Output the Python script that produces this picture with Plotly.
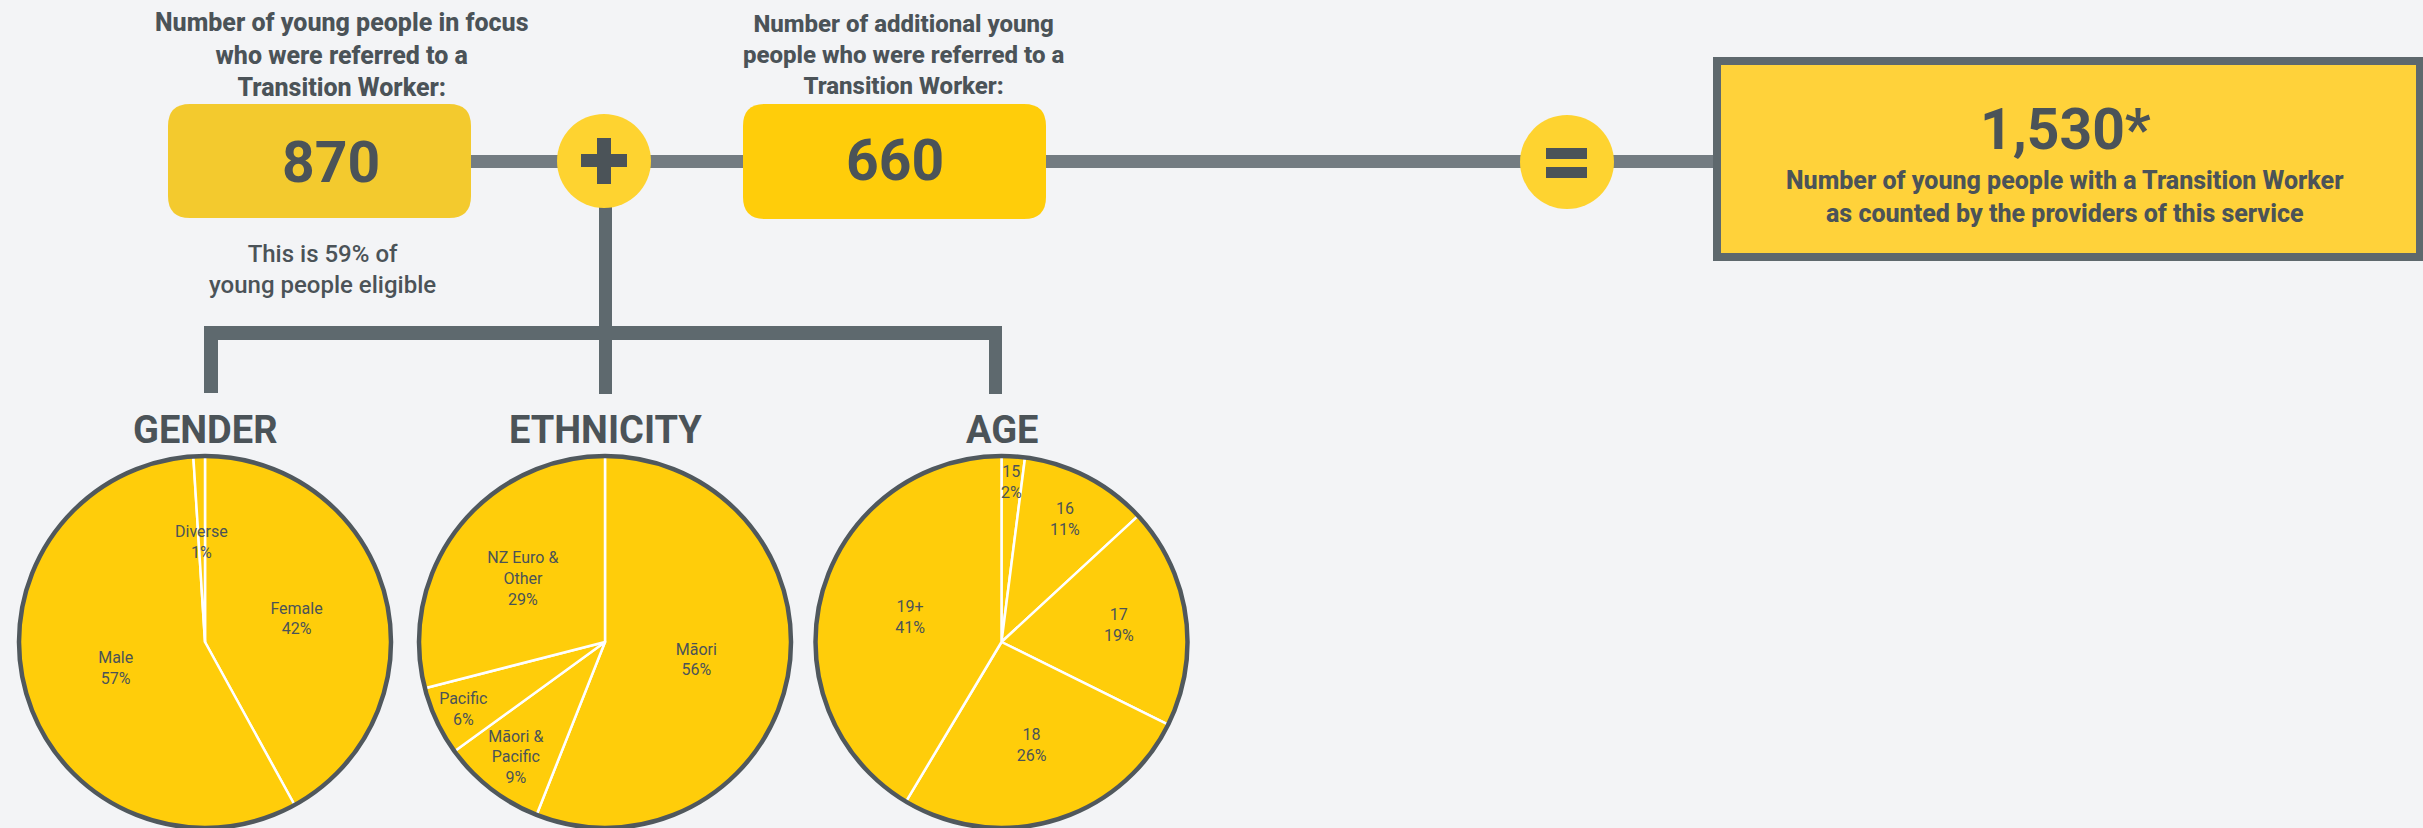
import math
import plotly.graph_objects as go

W, H = 2423, 828
BG = "#F3F4F6"
DARK = "#4B5358"
LINE = "#5E696E"
LINE_LIGHT = "#737C82"
YEL = "#FFCD0A"
YEL_BOX1 = "#F3CA2E"
YEL_CIRCLE = "#FED330"
YEL_TOTAL = "#FFD23A"
FONT = "Roboto"

# ---- data ----
focus_count = 870
additional_count = 660
eligible_share = 59

gender_labels = ["Female", "Male", "Diverse"]
gender_values = [42, 57, 1]

eth_labels = ["Māori", "Māori &<br>Pacific", "Pacific", "NZ Euro &<br>Other"]
eth_values = [56, 9, 6, 29]

age_labels = ["15", "16", "17", "18", "19+"]
age_values = [2, 11, 19, 26, 41]

pie_titles = ["GENDER", "ETHNICITY", "AGE"]

total_text = f"{focus_count + additional_count:,}*"

# styling: radial position (fraction of radius) for labels of tiny slices
SMALL = 2
small_label_radius = {1: 0.54, 2: 0.86}

fig = go.Figure()
# invisible cartesian trace so pixel-based axes exist
fig.add_trace(go.Scatter(x=[], y=[], showlegend=False, hoverinfo="skip"))

pie_centers = [205, 605, 1001.5]
R = 186
CY = H - R

annotations = []
def text(x, y, s, size, weight=700, color=DARK, yanchor="middle"):
    annotations.append(dict(x=x, y=y, xref="x", yref="y", text=s, showarrow=False,
                            xanchor="center", yanchor=yanchor, align="center",
                            font=dict(family=FONT, size=size, color=color, weight=weight)))

for (labels, values), cx in zip([(gender_labels, gender_values),
                                  (eth_labels, eth_values),
                                  (age_labels, age_values)], pie_centers):
    positions = ["none" if v <= SMALL else "inside" for v in values]
    fig.add_trace(go.Pie(
        labels=labels, values=values, sort=False, direction="clockwise", rotation=0,
        domain=dict(x=[(cx - R) / W, (cx + R) / W], y=[0, (2 * R) / H]),
        marker=dict(colors=[YEL] * len(values), line=dict(color="white", width=2.5)),
        texttemplate="%{label}<br>%{value}%", textposition=positions,
        insidetextorientation="horizontal",
        textfont=dict(family=FONT, size=16, color=DARK),
        showlegend=False, hoverinfo="label+value",
    ))
    # labels of tiny slices: placed along the slice bisector
    total = sum(values)
    cum = 0
    for lab, v in zip(labels, values):
        if v <= SMALL:
            mid = (cum + v / 2) / total * 2 * math.pi
            rf = small_label_radius.get(v, 0.6)
            text(cx + rf * R * math.sin(mid), CY - rf * R * math.cos(mid),
                 f"{lab}<br>{v}%", 16, weight=400)
        cum += v

shapes = []
def rect(x0, y0, x1, y1, color, **kw):
    shapes.append(dict(type="rect", xref="x", yref="y", x0=x0, y0=y0, x1=x1, y1=y1,
                       fillcolor=color, line=dict(width=0), layer="below", **kw))

def rounded(x0, y0, x1, y1, r, color):
    p = (f"M {x0+r} {y0} L {x1-r} {y0} Q {x1} {y0} {x1} {y0+r} L {x1} {y1-r} "
         f"Q {x1} {y1} {x1-r} {y1} L {x0+r} {y1} Q {x0} {y1} {x0} {y1-r} "
         f"L {x0} {y0+r} Q {x0} {y0} {x0+r} {y0} Z")
    shapes.append(dict(type="path", xref="x", yref="y", path=p, fillcolor=color,
                       line=dict(width=0), layer="below"))

def circle(cx, cy, r, fill, line_color=None, lw=0, layer="below"):
    shapes.append(dict(type="circle", xref="x", yref="y", x0=cx - r, x1=cx + r,
                       y0=cy - r, y1=cy + r, fillcolor=fill,
                       line=dict(color=line_color or fill, width=lw), layer=layer))

# connectors
rect(471, 155, 1713, 168, LINE_LIGHT)
rect(599, 190, 612, 394, LINE)
rect(204, 326, 1002, 340, LINE)
rect(204, 326, 218, 393, LINE)
rect(989, 326, 1002, 394, LINE)

# boxes
rounded(168, 104, 471, 218, 22, YEL_BOX1)
rounded(743, 104, 1046, 219, 22, YEL)
shapes.append(dict(type="rect", xref="x", yref="y", x0=1717, y0=61, x1=2420, y1=257,
                   fillcolor=YEL_TOTAL, line=dict(color="#5E686D", width=8), layer="below"))

# plus circle
circle(604, 161, 47, YEL_CIRCLE)
rect(581, 154, 627, 167, DARK)
rect(597, 138, 611, 184, DARK)
# equals circle
circle(1567, 162, 47, YEL_CIRCLE)
rect(1546, 148, 1587, 159, DARK)
rect(1546, 167, 1587, 178, DARK)

# pie borders
for cx in pie_centers:
    circle(cx, CY, R, "rgba(0,0,0,0)", "#50585D", 4.5, layer="above")

text(342, 55, "Number of young people in focus<br>who were referred to a<br>Transition Worker:", 25, weight=800)
text(903, 55, "Number of additional young<br>people who were referred to a<br>Transition Worker:", 24, weight=800)
text(331, 162, f"{focus_count}", 57)
text(895, 160, f"{additional_count}", 57)
text(322, 269, f"This is {eligible_share}% of<br>young people eligible", 24, weight=500)
text(2065, 129, total_text, 57)
text(2065, 197, "Number of young people with a Transition Worker<br>as counted by the providers of this service", 25, weight=800)
for t, cx in zip(pie_titles, pie_centers):
    text(cx, 430, t, 38)

fig.update_layout(
    width=W, height=H, margin=dict(l=0, r=0, t=0, b=0),
    paper_bgcolor=BG, plot_bgcolor=BG,
    xaxis=dict(range=[0, W], visible=False, fixedrange=True),
    yaxis=dict(range=[H, 0], visible=False, fixedrange=True),
    shapes=shapes, annotations=annotations,
    uniformtext=dict(minsize=16, mode="show"),
    showlegend=False,
)
fig.write_html("out.html", config={"displayModeBar": False},
               post_script="document.body.style.margin='0px';"
                           "document.body.style.backgroundColor='#F3F4F6';")
